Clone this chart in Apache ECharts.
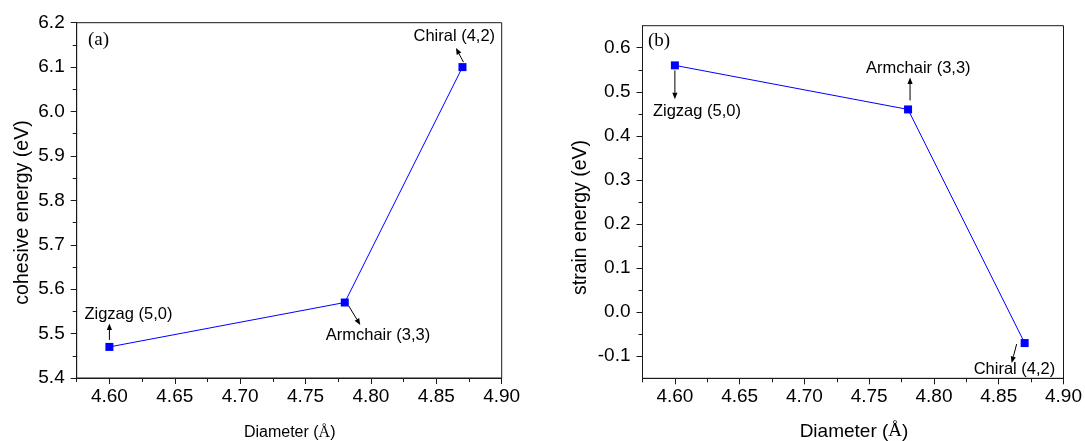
<!DOCTYPE html>
<html><head><meta charset="utf-8">
<script src="https://cdn.jsdelivr.net/npm/echarts@6/dist/echarts.min.js"></script>
<style>html,body{margin:0;padding:0;background:#fff}#c{width:1085px;height:441px}</style>
</head><body><div id="c"></div>
<script>
// ---- data ----
const diameters = [4.60, 4.78, 4.87];
const cohesiveEnergy = [5.47, 5.57, 6.10];
const strainEnergy = [0.56, 0.46, -0.07];
const tubeNames = ['Zigzag (5,0)', 'Armchair (3,3)', 'Chiral (4,2)'];
const xTickValues = [4.60, 4.65, 4.70, 4.75, 4.80, 4.85, 4.90];
const xMinorValues = [4.575, 4.625, 4.675, 4.725, 4.775, 4.825, 4.875];
const yTickValuesA = [5.4, 5.5, 5.6, 5.7, 5.8, 5.9, 6.0, 6.1, 6.2];
const yMinorValuesA = [5.45, 5.55, 5.65, 5.75, 5.85, 5.95, 6.05, 6.15];
const yTickValuesB = [-0.1, 0.0, 0.1, 0.2, 0.3, 0.4, 0.5, 0.6];
const yMinorValuesB = [-0.05, 0.05, 0.15, 0.25, 0.35, 0.45, 0.55];
const panelTags = ['(a)', '(b)'];
const yTitles = ['cohesive energy (eV)', 'strain energy (eV)'];
const xTitle = 'Diameter ({s|Å})';

// ---- styles ----
const SANS = '"Liberation Sans", Arial, sans-serif';
const SERIF = '"Liberation Serif", "Times New Roman", serif';
const AX = '#1a1a1a';
const BLUE = '#0000ff';

const chart = echarts.init(document.getElementById('c'), null, {renderer: 'canvas'});

function mainX(gi, min, max) {
  return {
    type: 'value', gridIndex: gi, min: min, max: max, position: 'bottom',
    axisLine: {show: true, onZero: false, lineStyle: {color: AX, width: 1}},
    axisTick: {show: true, customValues: xTickValues, length: 6, lineStyle: {color: AX, width: 1}},
    axisLabel: {show: true, customValues: xTickValues, formatter: v => v.toFixed(2),
      fontSize: 19, fontFamily: SANS, color: '#000', margin: 9},
    splitLine: {show: false}
  };
}
function minorX(gi, min, max) {
  return {
    type: 'value', gridIndex: gi, min: min, max: max, position: 'bottom',
    axisLine: {show: false, onZero: false},
    axisTick: {show: true, customValues: xMinorValues, length: 4, lineStyle: {color: AX, width: 1}},
    axisLabel: {show: false}, splitLine: {show: false}
  };
}
function mainY(gi, min, max, ticks) {
  return {
    type: 'value', gridIndex: gi, min: min, max: max, position: 'left',
    axisLine: {show: true, onZero: false, lineStyle: {color: AX, width: 1}},
    axisTick: {show: true, customValues: ticks, length: 6, lineStyle: {color: AX, width: 1}},
    axisLabel: {show: true, customValues: ticks, formatter: v => v.toFixed(1),
      fontSize: 19, fontFamily: SANS, color: '#000', margin: 12},
    splitLine: {show: false}
  };
}
function minorY(gi, min, max, ticks) {
  return {
    type: 'value', gridIndex: gi, min: min, max: max, position: 'left',
    axisLine: {show: false, onZero: false},
    axisTick: {show: true, customValues: ticks, length: 4, lineStyle: {color: AX, width: 1}},
    axisLabel: {show: false}, splitLine: {show: false}
  };
}

const pairsA = diameters.map((d, i) => [d, cohesiveEnergy[i]]);
const pairsB = diameters.map((d, i) => [d, strainEnergy[i]]);

const option = {
  animation: false,
  backgroundColor: '#fff',
  grid: [
    {left: 76.7, top: 22.7, width: 425, height: 355.3, show: true, borderColor: AX, borderWidth: 1, backgroundColor: 'transparent'},
    {left: 642.5, top: 25.7, width: 422.5, height: 352.6, show: true, borderColor: AX, borderWidth: 1, backgroundColor: 'transparent'}
  ],
  xAxis: [mainX(0, 4.575, 4.90), minorX(0, 4.575, 4.90), mainX(1, 4.575, 4.90), minorX(1, 4.575, 4.90)],
  yAxis: [mainY(0, 5.4, 6.2, yTickValuesA), minorY(0, 5.4, 6.2, yMinorValuesA),
          mainY(1, -0.15, 0.65, yTickValuesB), minorY(1, -0.15, 0.65, yMinorValuesB)],
  series: [
    {type: 'line', xAxisIndex: 0, yAxisIndex: 0, data: pairsA, symbol: 'rect', symbolSize: 8,
      lineStyle: {color: BLUE, width: 1}, itemStyle: {color: BLUE}, clip: false},
    {type: 'line', xAxisIndex: 2, yAxisIndex: 2, data: pairsB, symbol: 'rect', symbolSize: 8,
      lineStyle: {color: BLUE, width: 1}, itemStyle: {color: BLUE}, clip: false}
  ]
};
chart.setOption(option);

// ---- annotation layout (pixel offsets from each marker) ----
const annotLayout = [
  [ // panel (a)
    {text: [-25, -32], tail: [0, -7], tip: [0, -23.5]},
    {text: [-19, 33], tail: [4, 3.5], tip: [15.5, 22.5]},
    {text: [-49, -31], tail: [1, -5], tip: [-6.5, -19]}
  ],
  [ // panel (b)
    {text: [-22, 46], tail: [0, 5], tip: [0, 34]},
    {text: [-42, -41], tail: [2, -9], tip: [2, -32]},
    {text: [-51, 26], tail: [-8, 1], tip: [-13, 20]}
  ]
];

function arrow(tail, tip) {
  const dx = tip[0] - tail[0], dy = tip[1] - tail[1];
  const L = Math.hypot(dx, dy), ux = dx / L, uy = dy / L;
  const hl = 6.5, hw = 2.6;
  const base = [tip[0] - ux * hl, tip[1] - uy * hl];
  const l = [base[0] - uy * hw, base[1] + ux * hw];
  const r = [base[0] + uy * hw, base[1] - ux * hw];
  return [
    {type: 'line', silent: true, shape: {x1: tail[0], y1: tail[1], x2: base[0], y2: base[1]},
      style: {stroke: '#000', lineWidth: 1}},
    {type: 'polygon', silent: true, shape: {points: [tip, l, r]}, style: {fill: '#000'}}
  ];
}

const graphics = [];
const panels = [
  {axes: {xAxisIndex: 0, yAxisIndex: 0}, ys: cohesiveEnergy},
  {axes: {xAxisIndex: 2, yAxisIndex: 2}, ys: strainEnergy}
];
panels.forEach((p, pi) => {
  diameters.forEach((d, i) => {
    const pt = chart.convertToPixel(p.axes, [d, p.ys[i]]);
    const lay = annotLayout[pi][i];
    graphics.push({
      type: 'text', silent: true, x: pt[0] + lay.text[0], y: pt[1] + lay.text[1],
      style: {text: tubeNames[i], font: '16.5px ' + SANS, fill: '#000',
        align: 'left', verticalAlign: 'middle', textAlign: 'left', textVerticalAlign: 'middle'}
    });
    arrow([pt[0] + lay.tail[0], pt[1] + lay.tail[1]], [pt[0] + lay.tip[0], pt[1] + lay.tip[1]])
      .forEach(g => graphics.push(g));
  });
});

// panel tags
const tagPos = [[88, 40], [648, 41]];
panelTags.forEach((t, i) => graphics.push({
  type: 'text', silent: true, x: tagPos[i][0], y: tagPos[i][1],
  style: {text: t, font: '19px ' + SERIF, fill: '#000', align: 'left', verticalAlign: 'middle',
    textAlign: 'left', textVerticalAlign: 'middle'}
}));

// axis titles
const yTitlePos = [[22.5, 212.5], [580.5, 217.5]];
yTitles.forEach((t, i) => graphics.push({
  type: 'text', silent: true, x: yTitlePos[i][0], y: yTitlePos[i][1], rotation: Math.PI / 2,
  style: {text: t, font: '19.5px ' + SANS, fill: '#000', align: 'center', verticalAlign: 'middle',
    textAlign: 'center', textVerticalAlign: 'middle'}
}));
const xTitleSpec = [{pos: [289.7, 433], size: 16}, {pos: [854, 431.5], size: 19}];
xTitleSpec.forEach(s => graphics.push({
  type: 'text', silent: true, x: s.pos[0], y: s.pos[1],
  style: {text: xTitle, font: s.size + 'px ' + SANS, fill: '#000', align: 'center', verticalAlign: 'middle',
    textAlign: 'center', textVerticalAlign: 'middle',
    rich: {s: {fontFamily: SERIF, fontSize: s.size, fill: '#000', color: '#000'}}}
}));

chart.setOption({graphic: graphics});
</script>
</body></html>
